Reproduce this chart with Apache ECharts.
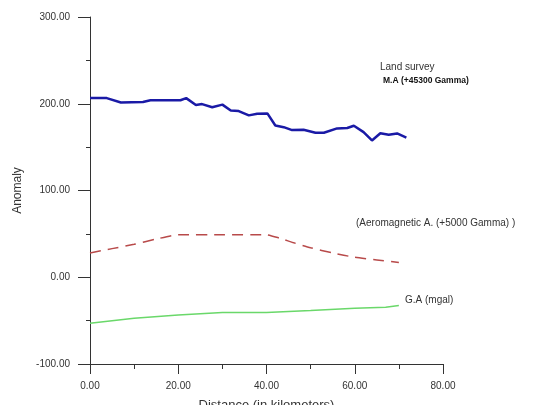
<!DOCTYPE html>
<html>
<head>
<meta charset="utf-8">
<script src="https://cdn.jsdelivr.net/npm/echarts@6/dist/echarts.min.js"></script>
<style>
  html, body { margin: 0; padding: 0; background: #fff; }
  #chart { width: 540px; height: 405px; }
</style>
</head>
<body>
<div id="chart"></div>
<script>
// Land survey M.A (+45300 Gamma)
var maDist = [0, 3.8, 7, 12, 13.7, 20.5, 21.8, 24, 25.4, 27.7, 30, 31.9, 33.7, 36, 37.9, 40.2, 42, 43.9, 45.8, 48.4, 51.1, 53, 56, 58.3, 59.8, 62, 63.9, 65.8, 67.7, 69.6, 71.7];
var maValue = [206.5, 206.5, 201.5, 202, 204, 204, 206.5, 198.5, 199.6, 196, 199, 192.3, 191.6, 186.6, 188.5, 188.9, 175, 173, 169.6, 170, 166.6, 166.6, 171.6, 172, 174.7, 167.3, 157.7, 166, 164.3, 165.8, 161];

// Aeromagnetic A. (+5000 Gamma)
var aeroDist = [0, 5, 10, 15, 20, 30, 40, 43, 46, 50, 55, 60, 65, 70];
var aeroValue = [28, 33, 38, 44, 49, 49, 49, 45, 40, 34, 28, 23, 20, 17];

// G.A (mgal)
var gaDist = [0, 10, 20, 30, 40, 50, 60, 67, 70];
var gaValue = [-53, -47.3, -43.4, -40.7, -40.7, -38.4, -35.8, -34.6, -32.7];

var xTicks = [0, 20, 40, 60, 80];
var yTicks = [-100, 0, 100, 200, 300];

function pairs(xs, ys) {
  var out = [];
  for (var i = 0; i < xs.length; i++) {
    out.push([xs[i], ys[i]]);
  }
  return out;
}

var chart = echarts.init(document.getElementById('chart'));

var labelFont = 'Liberation Sans, Arial, sans-serif';

var option = {
  backgroundColor: '#fff',
  animation: false,
  grid: {
    left: 90,
    right: 97,
    top: 17,
    bottom: 41,
    containLabel: false,
    outerBoundsMode: 'none'
  },
  xAxis: {
    type: 'value',
    min: xTicks[0],
    max: xTicks[xTicks.length - 1],
    interval: 20,
    name: 'Distance (in kilometers)',
    nameLocation: 'middle',
    nameGap: 35,
    nameTextStyle: { fontSize: 13, color: '#333', fontFamily: labelFont },
    axisLine: { onZero: false, lineStyle: { color: '#333', width: 1 } },
    axisTick: { length: 10, lineStyle: { color: '#333' } },
    minorTick: { show: true, splitNumber: 2, length: 5, lineStyle: { color: '#333' } },
    splitLine: { show: false },
    axisLabel: {
      fontSize: 10,
      color: '#333',
      fontFamily: labelFont,
      margin: 17,
      formatter: function (v) { return v.toFixed(2); }
    }
  },
  yAxis: {
    type: 'value',
    min: yTicks[0],
    max: yTicks[yTicks.length - 1],
    interval: 100,
    name: 'Anomaly',
    nameLocation: 'middle',
    nameRotate: 90,
    nameGap: 66,
    nameTextStyle: { fontSize: 12, color: '#333', fontFamily: labelFont },
    axisLine: { show: true, onZero: false, lineStyle: { color: '#333', width: 1 } },
    axisTick: { show: true, length: 12, lineStyle: { color: '#333' } },
    minorTick: { show: true, splitNumber: 2, length: 4, lineStyle: { color: '#333' } },
    splitLine: { show: false },
    axisLabel: {
      fontSize: 10,
      color: '#333',
      fontFamily: labelFont,
      margin: 20,
      formatter: function (v) { return v.toFixed(2); }
    }
  },
  series: [
    {
      name: 'M.A',
      type: 'line',
      showSymbol: false,
      data: pairs(maDist, maValue),
      lineStyle: { color: '#1a1aa6', width: 2.5 },
      itemStyle: { color: '#1a1aa6' }
    },
    {
      name: 'Aeromagnetic A.',
      type: 'line',
      showSymbol: false,
      smooth: 0.2,
      data: pairs(aeroDist, aeroValue),
      lineStyle: { color: '#b84a4a', width: 1.5, type: [11, 7] },
      itemStyle: { color: '#b84a4a' }
    },
    {
      name: 'G.A',
      type: 'line',
      showSymbol: false,
      data: pairs(gaDist, gaValue),
      lineStyle: { color: '#6ad86a', width: 1.5 },
      itemStyle: { color: '#6ad86a' }
    }
  ],
  graphic: [
    {
      type: 'text', left: 380, top: 62,
      style: { text: 'Land survey', fontSize: 10, fill: '#333', fontFamily: labelFont }
    },
    {
      type: 'text', left: 383, top: 76,
      style: { text: 'M.A (+45300 Gamma)', fontSize: 8.5, fontWeight: 'bold', fill: '#111', fontFamily: labelFont }
    },
    {
      type: 'text', left: 356, top: 218,
      style: { text: '(Aeromagnetic A. (+5000 Gamma) )', fontSize: 10, fill: '#333', fontFamily: labelFont }
    },
    {
      type: 'text', left: 405, top: 295,
      style: { text: 'G.A (mgal)', fontSize: 10, fill: '#333', fontFamily: labelFont }
    }
  ]
};

chart.setOption(option);
</script>
</body>
</html>
